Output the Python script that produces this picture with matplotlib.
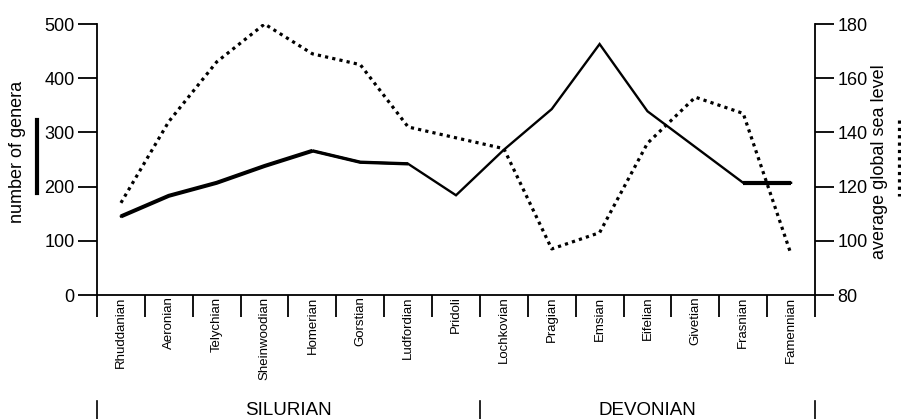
import matplotlib
matplotlib.use("Agg")
import matplotlib.pyplot as plt
from matplotlib.lines import Line2D

plt.rcParams['font.family'] = ['Liberation Sans', 'DejaVu Sans']

# stages (Silurian + Devonian)
stages = ["Rhuddanian", "Aeronian", "Telychian", "Sheinwoodian", "Homerian",
          "Gorstian", "Ludfordian", "Pridoli", "Lochkovian", "Pragian",
          "Emsian", "Eifelian", "Givetian", "Frasnian", "Famennian"]
# number of genera (solid line, left axis)
genera = [145, 183, 207, 238, 266, 245, 242, 184, 268, 343,
          463, 339, 273, 207, 207]
# average global sea level (dotted line, right axis)
sea_level = [114, 144, 166, 180, 169, 165, 142, 138, 134, 97,
             103, 136, 153, 147, 95]
periods = ["SILURIAN", "DEVONIAN"]
period_bounds = [0, 8, 15]

xs = [i + 0.5 for i in range(len(stages))]

fig = plt.figure(figsize=(9.01, 4.19), dpi=100)
ax = fig.add_axes([97 / 901, 124 / 419, 718 / 901, 271 / 419])
ax2 = ax.twinx()

# genera line - thicker in places, as in the original drawing
ax.plot(xs, genera, color="black", lw=1.7, solid_joinstyle="miter", zorder=3)
ax.plot(xs[:5], genera[:5], color="black", lw=2.9, solid_capstyle="butt", zorder=3)
ax.plot(xs[4:7], genera[4:7], color="black", lw=2.4, solid_capstyle="butt", zorder=3)
ax.plot(xs[13:], genera[13:], color="black", lw=3.0, solid_capstyle="butt", zorder=3)

ax2.plot(xs, sea_level, color="black", lw=2.3, dashes=[1, 1.3],
         dash_capstyle="butt", zorder=3)

ax.set_xlim(0, 15)
ax.set_ylim(0, 500)
ax2.set_ylim(80, 180)
ax.set_yticks([0, 100, 200, 300, 400, 500])
ax2.set_yticks([80, 100, 120, 140, 160, 180])

for a in (ax, ax2):
    a.spines["top"].set_visible(False)
    for s in a.spines.values():
        s.set_linewidth(1.3)
ax2.spines["left"].set_visible(False)
ax2.spines["bottom"].set_visible(False)
ax.spines["right"].set_visible(False)

ax.tick_params(axis="y", length=14, width=1.3, labelsize=13, pad=2)
ax2.tick_params(axis="y", length=14, width=1.3, labelsize=13, pad=2)

# stage boundaries as major ticks, names as minor tick labels
ax.set_xticks(range(16))
ax.set_xticklabels([])
ax.tick_params(axis="x", which="major", length=16, width=1.3, direction="out")
ax.set_xticks(xs, minor=True)
ax.set_xticklabels(stages, minor=True, rotation=90, fontsize=9.5, va="top")
ax.tick_params(axis="x", which="minor", length=0, pad=1)

# period labels with separators
trans = ax.get_xaxis_transform()
for b in period_bounds:
    ax.add_line(Line2D([b, b], [-0.39, -0.46], transform=trans, color="black",
                       lw=1.2, clip_on=False))
for i, p in enumerate(periods):
    mid = (period_bounds[i] + period_bounds[i + 1]) / 2
    ax.text(mid, -0.425, p, transform=trans, ha="center", va="center", fontsize=13.5)

# axis titles with their line keys
fig.text(18 / 901, 1 - 152 / 419, "number of genera", rotation=90,
         ha="center", va="center", fontsize=13)
fig.add_artist(Line2D([37 / 901, 37 / 901], [1 - 120 / 419, 1 - 193 / 419],
                      transform=fig.transFigure, color="black", lw=3))
fig.text(880 / 901, 1 - 162 / 419, "average global sea level", rotation=90,
         ha="center", va="center", fontsize=13)
fig.add_artist(Line2D([899 / 901, 899 / 901], [1 - 120 / 419, 1 - 196 / 419],
                      transform=fig.transFigure, color="black", lw=2.3,
                      dashes=[1, 1.3], dash_capstyle="butt"))

fig.savefig("out.png", dpi=100)
